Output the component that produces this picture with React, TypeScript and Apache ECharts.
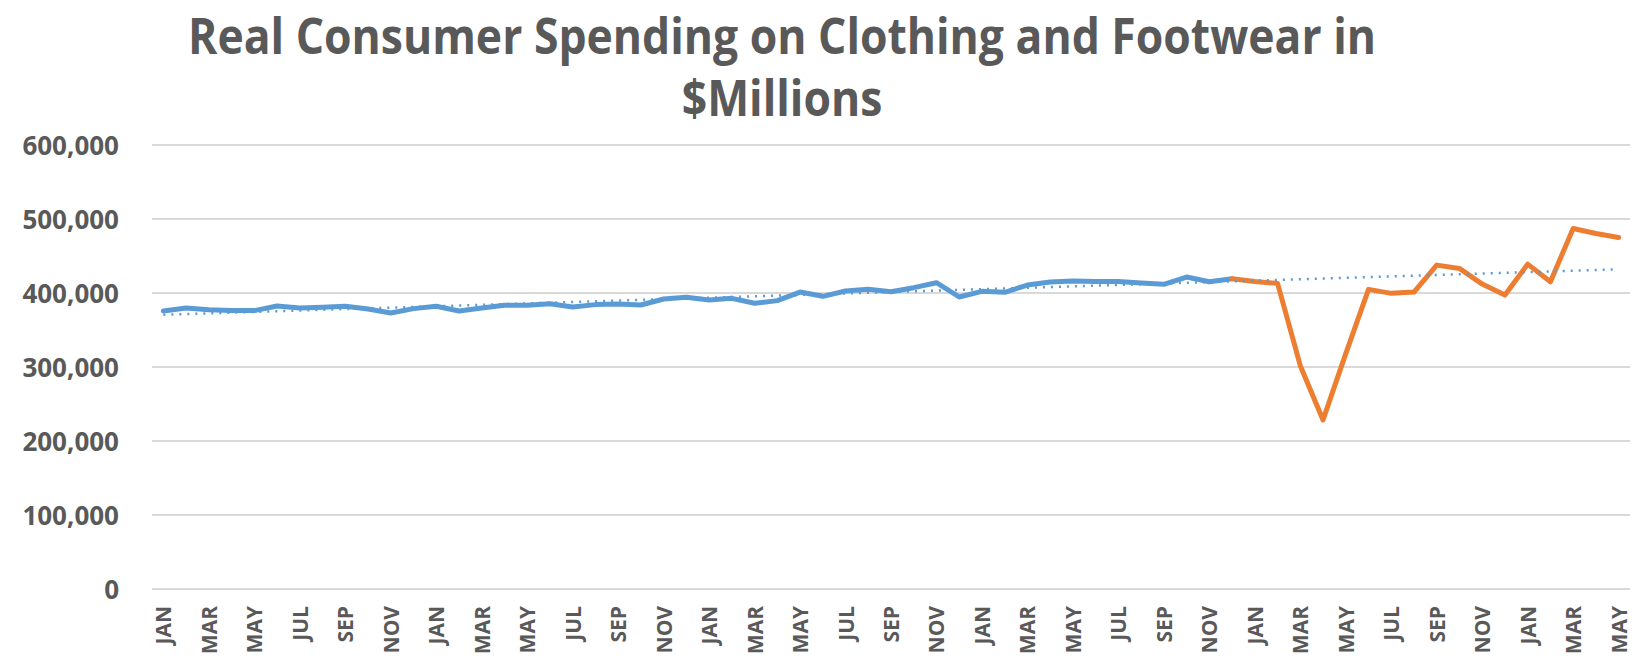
import React, { useEffect, useRef } from "react";
import * as echarts from "echarts";

const monthNames = ["JAN", "FEB", "MAR", "APR", "MAY", "JUN", "JUL", "AUG", "SEP", "OCT", "NOV", "DEC"];
const years = [2016, 2017, 2018, 2019, 2020, 2021];
const lastMonthCount = 5; // data runs through MAY of the final year

const titleLines = ["Real Consumer Spending on Clothing and Footwear in", "$Millions"];

// Blue segment: JAN 2016 .. DEC 2019
const blueValues = [
  375700, 379800, 377500, 376200, 376200, 382500, 379800, 380700, 382000, 378400, 373000, 378900,
  382000, 375700, 379800, 383400, 383400, 385600, 381100, 384300, 385200, 383800, 391900, 394200,
  390600, 392800, 386100, 389700, 401300, 395500, 402700, 405000, 401800, 407200, 413900, 394600,
  402200, 400900, 410800, 414800, 416200, 415700, 415700, 413500, 411700, 421600, 415300, 419300,
];

// Orange segment: DEC 2019 .. MAY 2021
const orangeValues = [
  419300, 415600, 413000, 301800, 228500, 318000, 404900, 399500, 401200, 437700, 433200, 412000,
  397200, 439000, 415100, 487200, 480400, 475000,
];

// Linear trendline end values (first month, last month)
const trendEnds = [370500, 432000];

const yTicks = { min: 0, max: 600000, interval: 100000 };

export default function App() {
  const ref = useRef<HTMLDivElement>(null);

  useEffect(() => {
    if (!ref.current) return;
    const chart = echarts.init(ref.current, undefined, { renderer: "svg" });

    const categories: string[] = [];
    years.forEach((_, yi) => {
      const n = yi === years.length - 1 ? lastMonthCount : 12;
      for (let m = 0; m < n; m++) categories.push(monthNames[m]);
    });
    const total = categories.length;
    const blueData = categories.map((_, i) => (i < blueValues.length ? blueValues[i] : null));
    const orangeStart = total - orangeValues.length;
    const orangeData = categories.map((_, i) => (i >= orangeStart ? orangeValues[i - orangeStart] : null));
    const trendData = [
      [0, trendEnds[0]],
      [total - 1, trendEnds[1]],
    ];

    const textColor = "#595959";
    const titleFont = "Open Sans";

    chart.setOption({
      animation: false,
      backgroundColor: "#ffffff",
      graphic: titleLines.map((t, i) => ({
        type: "text",
        x: 782,
        y: 34 + i * 62,
        scaleX: 0.89,
        style: {
          text: t,
          fill: textColor,
          fontFamily: titleFont,
          fontWeight: "bold",
          fontSize: 50,
          align: "center",
          verticalAlign: "middle",
        },
      })),
      grid: { left: 152, right: 2, top: 145, bottom: 72, containLabel: false },
      xAxis: {
        type: "category",
        data: categories,
        boundaryGap: true,
        axisLine: { show: false },
        axisTick: { show: false },
        axisLabel: {
          interval: 1,
          rotate: 90,
          margin: 17,
          color: textColor,
          fontFamily: "Open Sans",
          fontWeight: "bold",
          fontSize: 21,
        },
        splitLine: { show: false },
      },
      yAxis: {
        type: "value",
        min: yTicks.min,
        max: yTicks.max,
        interval: yTicks.interval,
        axisLine: { show: false },
        axisTick: { show: false },
        axisLabel: {
          margin: 33,
          color: textColor,
          fontFamily: "Open Sans",
          fontWeight: "bold",
          fontSize: 26,
          formatter: (v: number) => v.toLocaleString("en-US"),
        },
        splitLine: { show: true, lineStyle: { color: "#D9D9D9", width: 2 } },
      },
      series: [
        {
          name: "Spending",
          type: "line",
          data: blueData,
          symbol: "none",
          lineStyle: { color: "#5B9BD5", width: 5, cap: "round", join: "round" },
          z: 2,
        },
        {
          name: "Spending (2020-21)",
          type: "line",
          data: orangeData,
          symbol: "none",
          lineStyle: { color: "#ED7D31", width: 5, cap: "round", join: "round" },
          z: 3,
        },
        {
          name: "Trend",
          type: "line",
          data: trendData,
          symbol: "none",
          lineStyle: { color: "#5B9BD5", width: 2.5, type: [2, 6] },
          z: 4,
        },
      ],
    });

    return () => chart.dispose();
  }, []);

  return (
    <div
      ref={ref}
      style={{ position: "fixed", left: 0, top: 0, width: 1632, height: 661, background: "#fff" }}
    />
  );
}
